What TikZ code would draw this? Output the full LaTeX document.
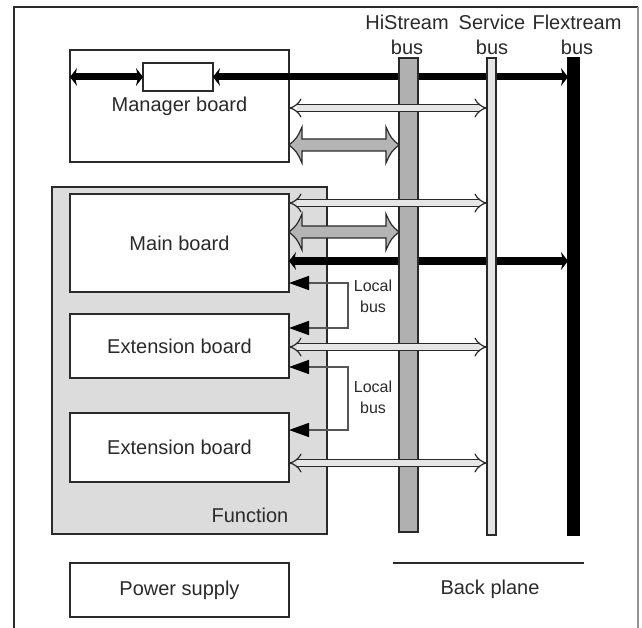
\documentclass[tikz,border=0pt]{standalone}
\usepackage{fontspec}
\setmainfont{Liberation Sans}
\usetikzlibrary{arrows.meta}
\definecolor{ink}{HTML}{2A2A2A}
\definecolor{funcfill}{HTML}{DCDCDC}
\definecolor{hsfill}{HTML}{B0B0B0}
\definecolor{svfill}{HTML}{E4E4E4}
\definecolor{holfill}{HTML}{E6E6E6}
\definecolor{fatfill}{HTML}{B4B4B4}
\pgfdeclarelayer{back}
\pgfdeclarelayer{mid}
\pgfsetlayers{back,mid,main}
\tikzset{
  bigtext/.style={font=\fontsize{20}{24}\selectfont, text=ink},
  smalltext/.style={font=\fontsize{16}{18}\selectfont, text=ink},
  board/.style={draw=ink, line width=1.4pt, fill=white, inner sep=0pt, outer sep=0pt, bigtext},
  funcbox/.style={draw=ink, line width=1.2pt, fill=funcfill, inner sep=0pt, outer sep=0pt},
  busbar/.style={draw=ink, line width=1.2pt, inner sep=0pt, outer sep=0pt},
  blk/.style={line width=7pt, draw=black, {Stealth[length=7pt,width=18pt,inset=2pt]}-{Stealth[length=7pt,width=18pt,inset=2pt]}},
  hollow/.style={draw=ink, line width=1.2pt, double=holfill, double distance=5.5pt, {Implies}-{Implies}},
  localbus/.style={draw=ink!80, line width=1.5pt, {Triangle[length=20pt,width=14pt,color=black,fill=black]}-{Triangle[length=20pt,width=14pt,color=black,fill=black]}},
  fatarrow/.style={draw=ink, line width=1.2pt, fill=fatfill, to path={
    .. controls ([xshift=8pt,yshift=7pt]\tikztostart) .. ([xshift=13pt,yshift=18pt]\tikztostart)
    -- ([xshift=13pt,yshift=6pt]\tikztostart)
    -- ([xshift=-13pt,yshift=6pt]\tikztotarget)
    -- ([xshift=-13pt,yshift=18pt]\tikztotarget)
    .. controls ([xshift=-8pt,yshift=7pt]\tikztotarget) .. (\tikztotarget)
    .. controls ([xshift=-8pt,yshift=-7pt]\tikztotarget) .. ([xshift=-13pt,yshift=-18pt]\tikztotarget)
    -- ([xshift=-13pt,yshift=-6pt]\tikztotarget)
    -- ([xshift=13pt,yshift=-6pt]\tikztostart)
    -- ([xshift=13pt,yshift=-18pt]\tikztostart)
    .. controls ([xshift=8pt,yshift=-7pt]\tikztostart) .. (\tikztostart)
    -- cycle}},
}
\begin{document}
\begin{tikzpicture}[x=1pt,y=-1pt]
\useasboundingbox (0,0) rectangle (642,628);
% outer frame
\coordinate (fbl) at (14,628);
\coordinate (ftl) at (14,7);
\coordinate (ftr) at (638,7);
\coordinate (fbr) at (638,628);
\draw[ink, line width=1.4pt] (fbl) -- (ftl) -- (ftr);
\draw[ink!50, line width=1.2pt] (ftr) -- (fbr);

\begin{pgfonlayer}{back}
\node[funcbox, minimum width=275pt, minimum height=347pt] (func) at (189.5,360.5) {};
\node[board, minimum width=219pt, minimum height=112pt] (mgr) at (179.5,106) {Manager board};
\node[board, minimum width=70pt, minimum height=28pt] (rel) at (178,77) {};
\node[board, minimum width=219pt, minimum height=98pt] (main) at (179.5,243) {Main board};
\node[board, minimum width=219pt, minimum height=64pt] (ext1) at (179.5,346) {Extension board};
\node[board, minimum width=219pt, minimum height=69pt] (ext2) at (179.5,447.5) {Extension board};
\end{pgfonlayer}
\node[bigtext] (functxt) at (250,515) {Function};
\node[board, minimum width=219pt, minimum height=54pt] (pwr) at (179.5,590) {Power supply};

% buses
\node[busbar, fill=hsfill, minimum width=19pt, minimum height=474pt] (hs) at (408.5,295) {};
\node[busbar, fill=svfill, minimum width=9pt, minimum height=477pt] (svc) at (491.5,296.5) {};
\node[busbar, draw=black, fill=black, minimum width=11pt, minimum height=477pt] (flex) at (573.5,296.5) {};

\node[bigtext] (hsl1) at (407,22) {HiStream};
\node[bigtext] (hsl2) at (407,47) {bus};
\node[bigtext] (svl1) at (492,22) {Service};
\node[bigtext] (svl2) at (492,47) {bus};
\node[bigtext] (fxl1) at (577,22) {Flextream};
\node[bigtext] (fxl2) at (577,47) {bus};

% black Flextream connections (under the buses)
\begin{pgfonlayer}{mid}
\draw[blk] (mgr.west |- rel.west) -- (rel.west);
\draw[blk] (rel.east) -- (flex.west |- rel.east);
\draw[blk] (main.east |- 0,261) -- (flex.west |- 0,261);
\end{pgfonlayer}

% service bus connections
\draw[hollow] (mgr.east |- 0,108) -- (svc.west |- 0,108);
\draw[hollow] (main.east |- 0,203) -- (svc.west |- 0,203);
\draw[hollow] (ext1.east |- 0,347) -- (svc.west |- 0,347);
\draw[hollow] (ext2.east |- 0,463) -- (svc.west |- 0,463);

% HiStream connections
\coordinate (g1s) at (mgr.east |- 0,145);
\coordinate (g1e) at (hs.west |- 0,145);
\coordinate (g2s) at (main.east |- 0,232);
\coordinate (g2e) at (hs.west |- 0,232);
\path[fatarrow] (g1s) to (g1e);
\path[fatarrow] (g2s) to (g2e);

% local buses
\coordinate (lb1t) at (348,283);
\coordinate (lb1b) at (348,328);
\coordinate (lb2t) at (348,367);
\coordinate (lb2b) at (348,430);
\draw[localbus] (main.east |- lb1t) -- (lb1t) -- (lb1b) -- (ext1.east |- lb1b);
\draw[localbus] (ext1.east |- lb2t) -- (lb2t) -- (lb2b) -- (ext2.east |- lb2b);
\node[smalltext] (lbl1a) at (373,286) {Local};
\node[smalltext] (lbl1b) at (373,307) {bus};
\node[smalltext] (lbl2a) at (373,387) {Local};
\node[smalltext] (lbl2b) at (373,408) {bus};

% back plane
\coordinate (bpl) at (393,563);
\coordinate (bpr) at (584,563);
\draw[ink, line width=1.4pt] (bpl) -- (bpr);
\node[bigtext] (bptxt) at (490,589) {Back plane};
\end{tikzpicture}
\end{document}
